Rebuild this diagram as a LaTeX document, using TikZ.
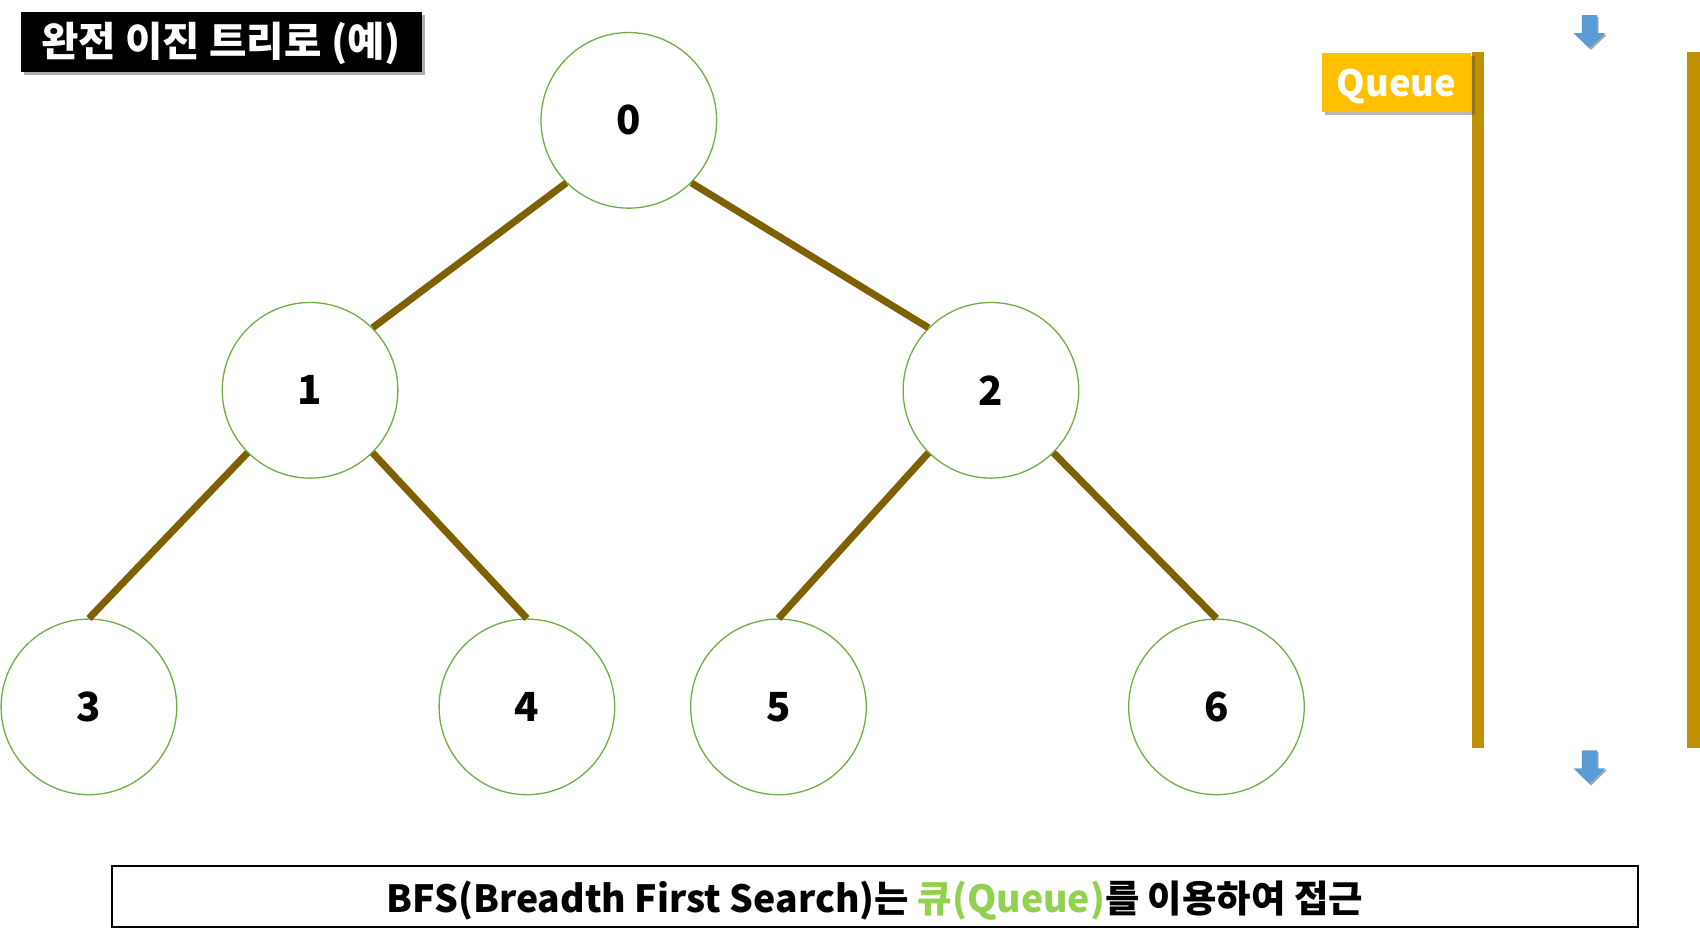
\documentclass[tikz,border=0pt]{standalone}
\usepackage{fontspec}
\setmainfont{Noto Sans CJK KR}
\usetikzlibrary{shadows}
\definecolor{nodegreen}{HTML}{70AD47}
\definecolor{edgebrown}{HTML}{7F6000}
\definecolor{qyellow}{HTML}{FFC000}
\definecolor{bargold}{HTML}{BF9000}
\definecolor{arrowblue}{HTML}{5B9BD5}
\definecolor{txtgreen}{HTML}{92D050}
\begin{document}
\begin{tikzpicture}[x=1pt,y=-1pt,
  treenode/.style={circle, draw=nodegreen, line width=1.2pt, fill=white, minimum size=162pt, inner sep=0pt, font=\fontsize{37}{40}\selectfont\bfseries},
  treeedge/.style={draw=edgebrown, line width=6.5pt},
  qbar/.style={fill=bargold, draw=none},
  qarrow/.style={fill=arrowblue, draw=none, drop shadow={shadow xshift=1.5pt, shadow yshift=-1.5pt, opacity=0.35, fill=black}},
]
\useasboundingbox (0,0) rectangle (1568,874.5);
% title
\node[fill=black, minimum width=370pt, minimum height=55pt, inner sep=0pt,
  drop shadow={shadow xshift=3pt, shadow yshift=-3pt, opacity=0.45, fill=black!70}] (title) at (204,38.5) {};
\node[text=white, font=\fontsize{37.5}{40}\selectfont\bfseries, inner sep=0pt] (titletext) at (204,40.5) {완전 이진 트리로 (예)};
% tree nodes
\node[treenode] (n0) at (580,111) {0};
\node[treenode] (n1) at (286,360) {1};
\node[treenode] (n2) at (914,360) {2};
\node[treenode] (n3) at (82,652) {3};
\node[treenode] (n4) at (486,652) {4};
\node[treenode] (n5) at (718,652) {5};
\node[treenode] (n6) at (1122,652) {6};
% edges
\draw[treeedge] (n0.-135) -- (n1.45);
\draw[treeedge] (n0.-45) -- (n2.135);
\draw[treeedge] (n1.-135) -- (n3.north);
\draw[treeedge] (n1.-45) -- (n4.north);
\draw[treeedge] (n2.-135) -- (n5.north);
\draw[treeedge] (n2.-45) -- (n6.north);
% queue
\fill[qbar] (1358,48) rectangle (1369,690);
\fill[qbar] (1556,48) rectangle (1568,690);
\node[fill=qyellow, minimum width=138pt, minimum height=55pt, inner sep=0pt,
  drop shadow={shadow xshift=3pt, shadow yshift=-3pt, opacity=0.4, fill=black!70}] (queue) at (1288,76) {};
\node[text=white, font=\fontsize{33.5}{36}\selectfont\bfseries, inner sep=0pt] (queuetext) at (1288,79.5) {Queue};
% arrows
\path[qarrow] (1459,14) -- (1473,14) -- (1473,30.6) -- (1480.6,30.6) -- (1466,44.5) -- (1451.4,30.6) -- (1459,30.6) -- cycle;
\path[qarrow] (1459,692) -- (1473,692) -- (1473,708.7) -- (1480.6,708.7) -- (1466,723) -- (1451.4,708.7) -- (1459,708.7) -- cycle;
% bottom box
\node[draw=black, line width=1.8pt, minimum width=1408pt, minimum height=56pt, inner sep=0pt] (bottom) at (807,827) {};
\node[font=\fontsize{34.5}{37}\selectfont\bfseries] (btext) at (807,830.5)
  {BFS(Breadth First Search)는 \textcolor{txtgreen}{큐(Queue)}를 이용하여 접근};
\end{tikzpicture}
\end{document}
